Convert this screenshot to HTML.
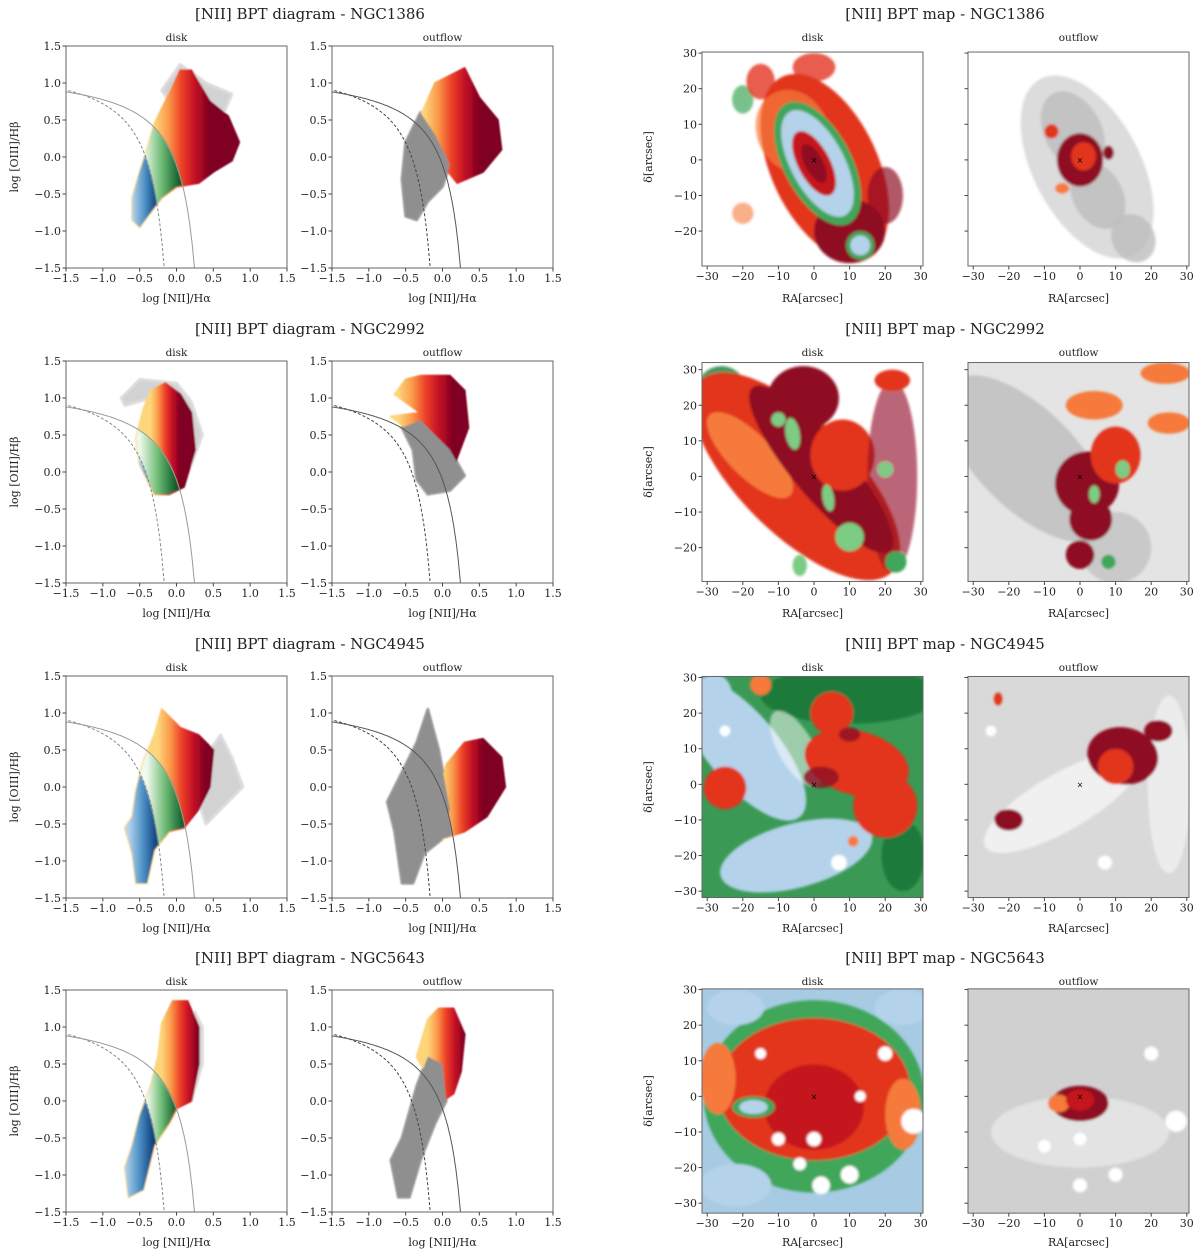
<!DOCTYPE html>
<html><head><meta charset="utf-8">
<style>
html,body{margin:0;padding:0;background:#fff;}
svg{display:block;font-family:"DejaVu Serif","Liberation Serif",serif;}
</style></head>
<body>
<svg id="fig" width="1200" height="1255" viewBox="0 0 1200 1255" xmlns="http://www.w3.org/2000/svg">
<defs>
<filter id="soft" x="-10%" y="-10%" width="120%" height="120%"><feGaussianBlur stdDeviation="1.4"/></filter>
<filter id="soft2" x="-10%" y="-10%" width="120%" height="120%"><feGaussianBlur stdDeviation="0.9"/></filter>
</defs>
</svg>
<script>
// ---------- data ----------
const galaxies = ['NGC1386','NGC2992','NGC4945','NGC5643'];
const bptXTicks = [-1.5,-1.0,-0.5,0.0,0.5,1.0,1.5];
const bptYTicks = [-1.5,-1.0,-0.5,0.0,0.5,1.0,1.5];
const mapXTicks = [-30,-20,-10,0,10,20,30];
const mapYTicks = [-30,-20,-10,0,10,20,30];

// BPT clouds (data coords: log NII/Ha, log OIII/Hb)
const cloud1386Disk = [[-0.6,-0.85],[-0.5,-0.95],[-0.35,-0.75],[-0.2,-0.55],[0.0,-0.4],[0.3,-0.35],[0.5,-0.2],[0.75,-0.05],[0.85,0.2],[0.7,0.55],[0.45,0.75],[0.3,1.0],[0.2,1.17],[0.05,1.17],[-0.05,0.95],[-0.15,0.75],[-0.3,0.45],[-0.4,0.1],[-0.5,-0.2],[-0.6,-0.55]];
const gray1386Disk = [[-0.2,0.9],[0.05,1.25],[0.4,1.0],[0.75,0.85],[0.6,0.5],[0.0,0.6]];
const cloud1386Out = [[-0.3,0.55],[-0.1,1.0],[0.1,1.1],[0.3,1.2],[0.5,0.8],[0.75,0.5],[0.8,0.1],[0.55,-0.2],[0.2,-0.35],[0.0,-0.1],[-0.1,0.2]];
const gray1386Out = [[-0.5,-0.8],[-0.35,-0.85],[-0.2,-0.6],[0.0,-0.4],[0.1,-0.1],[-0.1,0.3],[-0.3,0.6],[-0.5,0.2],[-0.55,-0.3]];
const cloud2992Disk = [[-0.3,-0.3],[-0.1,-0.3],[0.1,-0.2],[0.25,0.3],[0.2,0.8],[0.05,1.05],[-0.15,1.2],[-0.35,1.1],[-0.45,0.85],[-0.55,0.45],[-0.5,0.1]];
const gray2992Disk = [[-0.75,1.0],[-0.5,1.25],[0.0,1.2],[0.2,0.95],[0.35,0.5],[0.2,0.1],[0.1,0.6],[-0.35,1.0],[-0.7,0.9]];
const cloud2992Out = [[-0.3,0.8],[-0.65,1.05],[-0.5,1.25],[-0.3,1.3],[0.1,1.3],[0.3,1.1],[0.35,0.6],[0.2,0.2],[0.1,-0.1],[-0.1,0.1],[-0.3,0.4],[-0.5,0.6],[-0.7,0.75]];
const gray2992Out = [[-0.55,0.6],[-0.4,0.3],[-0.35,-0.1],[-0.2,-0.3],[0.1,-0.25],[0.3,-0.05],[0.1,0.3],[-0.3,0.7]];
const cloud4945Disk = [[-0.55,-1.3],[-0.4,-1.3],[-0.3,-0.85],[-0.1,-0.6],[0.1,-0.55],[0.3,-0.3],[0.45,0.0],[0.5,0.5],[0.3,0.7],[0.05,0.8],[-0.2,1.05],[-0.3,0.7],[-0.45,0.35],[-0.55,-0.05],[-0.6,-0.4],[-0.7,-0.55],[-0.6,-0.9]];
const gray4945Disk = [[0.4,-0.5],[0.3,-0.2],[0.45,0.5],[0.6,0.7],[0.75,0.4],[0.9,0.0],[0.6,-0.3]];
const cloud4945Out = [[0.0,-0.7],[0.3,-0.6],[0.6,-0.4],[0.85,0.0],[0.8,0.4],[0.55,0.65],[0.3,0.6],[0.05,0.3],[-0.05,-0.2]];
const gray4945Out = [[-0.55,-1.3],[-0.4,-1.3],[-0.25,-0.9],[0.0,-0.7],[0.1,-0.3],[-0.05,0.5],[-0.2,1.05],[-0.35,0.6],[-0.55,0.2],[-0.75,-0.2],[-0.65,-0.6]];
const cloud5643Disk = [[-0.65,-1.3],[-0.45,-1.2],[-0.3,-0.6],[-0.1,-0.3],[0.0,-0.1],[0.2,0.0],[0.3,0.5],[0.3,1.0],[0.15,1.35],[-0.05,1.35],[-0.2,1.05],[-0.25,0.6],[-0.35,0.2],[-0.5,-0.2],[-0.6,-0.6],[-0.7,-0.9]];
const gray5643Disk = [[0.2,0.0],[0.35,0.5],[0.35,1.0],[0.25,1.2],[0.1,1.0]];
const cloud5643Out = [[-0.35,0.6],[-0.2,1.1],[-0.05,1.25],[0.15,1.25],[0.3,0.9],[0.25,0.4],[0.15,0.1],[0.0,0.0],[-0.1,0.3],[-0.3,0.5]];
const gray5643Out = [[-0.6,-1.3],[-0.45,-1.3],[-0.3,-0.8],[-0.1,-0.3],[0.05,0.0],[0.0,0.5],[-0.2,0.6],[-0.35,0.2],[-0.55,-0.5],[-0.7,-0.8]];

const diskClouds = [cloud1386Disk, cloud2992Disk, cloud4945Disk, cloud5643Disk];
const diskGrays = [gray1386Disk, gray2992Disk, gray4945Disk, gray5643Disk];
const outClouds = [cloud1386Out, cloud2992Out, cloud4945Out, cloud5643Out];
const outGrays = [gray1386Out, gray2992Out, gray4945Out, gray5643Out];
const diskRedRange = [[-0.3,0.45],[-0.35,0.05],[-0.25,0.4],[-0.2,0.3]];
const outRedRange = [[-0.25,0.5],[-0.6,0.15],[0.0,0.55],[-0.2,0.3]];
const diskGreenRange = [[-0.45,0.05],[-0.5,0.0],[-0.4,0.1],[-0.4,0.0]];
const diskBlueRange = [[-0.6,-0.25],[-0.5,-0.3],[-0.65,-0.25],[-0.7,-0.3]];

// maps: [ra, dec, rx, ry, rotation, colour, opacity]
const map1386Disk = [[3,-2,15,28,-25,'red',1],[10,-20,10,9,0,'darkred',1],[-6,8,10,12,-25,'orange',0.7],[1,-1,9.5,19,-28,'green',1],[1,-1,7.5,16.5,-28,'lblue',1],[0,-1,4.5,10,-28,'red2',1],[0,-1,2.5,6,-28,'darkred',1],[13,-24,4,4,0,'green',1],[13,-24,2.8,2.8,0,'lblue',1],[-20,17,3,4,0,'green',0.7],[-15,22,4,5,0,'red',0.8],[0,26,6,4,0,'red',0.8],[20,-10,5,8,0,'darkred',0.7],[-20,-15,3,3,0,'orange',0.6]];
const map1386Out = [[2,-2,15,28,-28,'lgray',1],[-2,8,8,12,-28,'gray',0.8],[5,-10,7,10,-28,'gray',0.8],[15,-22,6,7,-28,'gray',0.8],[0,0,6.5,7.5,0,'darkred',1],[1,1,3.5,4,0,'red',1],[-5,-8,2,1.5,0,'orange',1],[-8,8,2,2,0,'red',1],[8,2,1.5,2,0,'darkred',1]];
const map2992Disk = [[-26,24,7,7,0,'dgreen',0.8],[-5,0,16,38,-45,'red',1],[-18,6,6,16,-45,'orange',1],[2,2,8,30,-40,'darkred',1],[-3,22,10,9,0,'darkred',1],[8,6,9,10,0,'red',1],[22,0,7,27,0,'darkred',0.6],[22,27,5,3,0,'red',1],[-6,12,2,4.5,-10,'lgreen',1],[4,-6,1.6,3.8,-10,'lgreen',1],[10,-17,4,4,0,'lgreen',1],[23,-24,3,3,0,'green',1],[20,2,2,2,0,'lgreen',1],[-4,-25,2,3,0,'lgreen',1],[-10,16,2,2,0,'lgreen',1]];
const map2992Out = [[-15,5,14,30,-45,'gray',0.8],[10,-20,10,10,0,'gray',0.7],[2,-2,9,9,0,'darkred',1],[10,6,7,8,0,'red',1],[3,-12,6,6,0,'darkred',1],[4,20,8,4,0,'orange',1],[24,29,7,3,0,'orange',1],[25,15,6,3,0,'orange',1],[0,-22,4,4,0,'darkred',1],[12,2,2,2.5,0,'lgreen',1],[4,-5,1.5,2.5,0,'lgreen',1],[8,-24,2,2,0,'green',1]];
const map4945Disk = [[10,25,25,8,0,'dgreen',1],[25,-20,6,10,0,'dgreen',1],[-20,10,10,25,-40,'lblue',1],[-5,-20,22,9,-15,'lblue',1],[-28,25,5,6,0,'lblue',1],[-5,10,5,12,-30,'white',0.5],[12,6,15,9,15,'red',1],[20,-6,9,9,0,'red',1],[5,20,6,6,0,'red',1],[-25,-1,6,6,0,'red',1],[2,2,5,3,0,'darkred',0.8],[10,14,3,2,0,'darkred',0.8],[-15,28,3,3,0,'orange',1],[11,-16,1.5,1.5,0,'orange',1],[-25,15,1.5,1.5,0,'white',1],[7,-22,2.2,2.2,0,'white',1]];
const map4945Out = [[-5,-5,25,8,-30,'white',0.6],[25,0,6,25,0,'white',0.5],[12,8,10,8,10,'darkred',1],[10,5,5,5,0,'red',1],[22,15,4,3,0,'darkred',1],[-23,24,1.2,1.8,0,'red',1],[-20,-10,4,3,0,'darkred',1],[-25,15,1.5,1.5,0,'white',1],[7,-22,2,2,0,'white',1]];
const map5643Disk = [[0,0,31,27,0,'green',1],[-22,-25,10,6,0,'lblue',1],[25,25,8,5,0,'lblue',1],[-22,25,8,5,0,'lblue',1],[0,2,27,20,0,'red',1],[-27,5,5,10,0,'orange',1],[25,-5,5,10,0,'orange',1],[0,-3,14,12,0,'red2',1],[-17,-3,6,3,0,'green',1],[-17,-3,4,2,0,'lblue',1],[-15,12,1.5,1.5,0,'white',1],[-10,-12,1.8,1.8,0,'white',1],[0,-12,2,2,0,'white',1],[13,0,1.5,1.5,0,'white',1],[20,12,2,2,0,'white',1],[28,-7,3.5,3.5,0,'white',1],[10,-22,2.5,2.5,0,'white',1],[2,-25,2.5,2.5,0,'white',1],[-4,-19,1.8,1.8,0,'white',1]];
const map5643Out = [[0,-10,25,10,0,'white',0.4],[0,-2,8,5,0,'darkred',1],[-6,-2,3,2.5,0,'orange',1],[0,-1,4,3,0,'red2',1],[-10,-14,1.8,1.8,0,'white',1],[0,-12,1.8,1.8,0,'white',1],[20,12,2,2,0,'white',1],[27,-7,3,3,0,'white',1],[10,-22,2,2,0,'white',1],[0,-25,2,2,0,'white',1]];
const diskMaps = [map1386Disk, map2992Disk, map4945Disk, map5643Disk];
const outMaps = [map1386Out, map2992Out, map4945Out, map5643Out];
const diskMapBg = ['#ffffff','#ffffff','#3a9a55','#a6cbe3'];
const outMapBg = ['#ffffff','#e4e4e4','#d9d9d9','#d0d0d0'];
const mapDecTop = [30.3, 32, 30.3, 30.2];
const mapDecBottom = [-29.8, -29.5, -31.8, -32.8];

// ---------- layout ----------
const palette = {red:'#e2361f',red2:'#c4141c',darkred:'#8e0a22',orange:'#f67a3a',green:'#3fa65a',dgreen:'#1a7a3a',lgreen:'#7bcc84',lblue:'#b4d3ea',gray:'#bdbdbd',lgray:'#dcdcdc',white:'#ffffff'};
const rowTop = [46,361,676,990];
const PW = 221, PH = 222;
const bptLeft = [66,332];
const mapLeft = [702,968];
const NS = 'http://www.w3.org/2000/svg';
const svg = document.getElementById('fig');
const defs = svg.querySelector('defs');
let uid = 0;
function mk(tag, attrs, parent){
  const e = document.createElementNS(NS, tag);
  for (const k in attrs) e.setAttribute(k, attrs[k]);
  (parent||svg).appendChild(e);
  return e;
}
function fmt(v){ return (v<0?'\u2212':'') + Math.abs(v).toFixed(1); }
function fmtI(v){ return (v<0?'\u2212':'') + Math.abs(v); }

function text(str, x, y, size, anchor, parent, name, rot){
  const t = mk('text', {x:x, y:y, 'font-size':size, 'text-anchor':anchor||'middle', fill:'#222'}, parent);
  if (rot) t.setAttribute('transform', 'rotate(-90 '+x+' '+y+')');
  t.textContent = str;
  
  
  return t;
}
function grad(id, x1, x2, stops){
  const g = mk('linearGradient', {id:id, gradientUnits:'userSpaceOnUse', x1:x1, x2:x2, y1:0, y2:0}, defs);
  stops.forEach(s => mk('stop', {offset:s[0], 'stop-color':s[1]}, g));
}
const kauff = x => 0.61/(x-0.05)+1.3;
const kewley = x => 0.61/(x-0.47)+1.19;

function drawBPT(row, col){
  const L = bptLeft[col], T = rowTop[row];
  const px = x => L + (x+1.5)/3*PW;
  const py = y => T + (1.5-y)/3*PH;
  const g = mk('g', {});
  
  
  const id = 'c'+(uid++);
  const cp = mk('clipPath', {id:id}, defs);
  mk('rect', {x:L, y:T, width:PW, height:PH}, cp);
  const inner = mk('g', {'clip-path':'url(#'+id+')'}, g);
  const cloudsG = mk('g', {filter:'url(#soft2)'}, inner);
  const poly = pts => pts.map(p => px(p[0]).toFixed(1)+','+py(p[1]).toFixed(1)).join(' ');
  const cloud = col===0 ? diskClouds[row] : outClouds[row];
  const gr = col===0 ? diskGrays[row] : outGrays[row];
  function curvePts(f, xmax){
    const pts=[]; for (let x=-1.6; x<xmax; x+=0.01){ const y=f(x); if (y<-1.7) break; pts.push([x,y]); }
    return pts;
  }
  const kp = curvePts(kauff, 0.05), wp = curvePts(kewley, 0.47);
  const kId='k'+(uid++), wId='w'+(uid++);
  const kc = mk('clipPath',{id:kId},defs);
  mk('polygon',{points:poly(kp.concat([[kp[kp.length-1][0],-1.8],[-1.6,-1.8]]))},kc);
  const wc = mk('clipPath',{id:wId},defs);
  mk('polygon',{points:poly(wp.concat([[wp[wp.length-1][0],-1.8],[-1.6,-1.8]]))},wc);
  const rr = col===0 ? diskRedRange[row] : outRedRange[row];
  const rg='rg'+(uid++), gg='gg'+(uid++), bg='bg'+(uid++);
  grad(rg, px(rr[0]), px(rr[1]), [[0,'#fdd57a'],[0.25,'#fb9a4a'],[0.5,'#ec3e26'],[0.75,'#c00d25'],[1,'#7f0022']]);
  const gn = diskGreenRange[row], bl = diskBlueRange[row];
  grad(gg, px(gn[0]), px(gn[1]), [[0,'#f0f9ec'],[0.5,'#6dbb74'],[1,'#0b5a2a']]);
  grad(bg, px(bl[0]), px(bl[1]), [[0,'#b5d3ea'],[0.5,'#4a8fc4'],[1,'#0a3a75']]);
  const grayP = mk('polygon', {points:poly(gr), fill: col===0?'#d2d2d2':'#8f8f8f', stroke: col===0?'#dcdcdc':'#a0a0a0', 'stroke-width':3, 'stroke-linejoin':'round'}, cloudsG);
  
  
  const rP = mk('polygon', {points:poly(cloud), fill:'url(#'+rg+')', stroke:'url(#'+rg+')', 'stroke-width':2, 'stroke-linejoin':'round'}, cloudsG);
  
  
  const lowG = col===0 ? 'url(#'+gg+')' : '#8f8f8f';
  const lowB = col===0 ? 'url(#'+bg+')' : '#8f8f8f';
  const gP = mk('polygon', {points:poly(cloud), fill:lowG, 'clip-path':'url(#'+wId+')'}, cloudsG);
  
  
  const bP = mk('polygon', {points:poly(cloud), fill:lowB, 'clip-path':'url(#'+kId+')'}, cloudsG);
  
  
  if (col===1){
    const gP2 = mk('polygon', {points:poly(gr), fill:'#8f8f8f'}, cloudsG);
    
    
  }
  const kl = mk('polyline', {points:poly(kp), fill:'none', stroke: col===0?'#888':'#444', 'stroke-width':1, 'stroke-dasharray':'3,2'}, inner);
  
  
  const wl = mk('polyline', {points:poly(wp), fill:'none', stroke: col===0?'#999':'#555', 'stroke-width':1}, inner);
  
  
  const fr = mk('rect', {x:L, y:T, width:PW, height:PH, fill:'none', stroke:'#666', 'stroke-width':1}, g);
  
  
  bptXTicks.forEach(v => {
    const x = px(v);
    const tk = mk('line', {x1:x, x2:x, y1:T+PH, y2:T+PH+3.5, stroke:'#444'}, g);
    
    
    text(fmt(v), x, T+PH+14, 11, 'middle', g, 'x-tick-label');
  });
  bptYTicks.forEach(v => {
    const y = py(v);
    const tk = mk('line', {x1:L-3.5, x2:L, y1:y, y2:y, stroke:'#444'}, g);
    
    
    text(fmt(v), L-5, y+4, 11, 'end', g, 'y-tick-label');
  });
  text(col===0?'disk':'outflow', L+PW/2, T-5, 10.5, 'middle', g, 'subplot-title');
  text('log [NII]/H\u03B1', L+PW/2, T+PH+34, 11, 'middle', g, 'x-axis-title');
  if (col===0) text('log [OIII]/H\u03B2', 18, T+PH/2, 11, 'middle', g, 'y-axis-title', true);
}

function drawMap(row, col){
  const L = mapLeft[col];
  const top = mapDecTop[row], bot = mapDecBottom[row];
  const s = 3.56;
  const T = rowTop[row] + (PH - (top-bot)*s)/2 + (row===0?2:0);
  const H = (top-bot)*s;
  const px = ra => L + 112 + ra*s;
  const py = dec => T + (top-dec)*s;
  const g = mk('g', {});
  
  
  const id='m'+(uid++);
  const cp = mk('clipPath',{id:id},defs);
  mk('rect',{x:L,y:T,width:PW,height:H},cp);
  const inner = mk('g',{'clip-path':'url(#'+id+')'},g);
  const bgc = col===0 ? diskMapBg[row] : outMapBg[row];
  mk('rect',{x:L,y:T,width:PW,height:H,fill:bgc},inner);
  const blur = mk('g',{filter:'url(#soft)'},inner);
  const blobs = col===0 ? diskMaps[row] : outMaps[row];
  blobs.forEach(b => {
    const cx = px(b[0]), cy = py(b[1]);
    const e = mk('ellipse',{cx:cx, cy:cy, rx:b[2]*s, ry:b[3]*s, fill:palette[b[5]], opacity:b[6], transform:'rotate('+b[4]+' '+cx+' '+cy+')'}, blur);
    
    
  });
  const cm = mk('text',{x:px(0),y:py(0)+3,'font-size':8,'text-anchor':'middle',fill:'#000'},inner);
  cm.textContent='\u00D7';
  
  
  const fr = mk('rect',{x:L,y:T,width:PW,height:H,fill:'none',stroke:'#666','stroke-width':1},g);
  
  
  mapXTicks.forEach(v => {
    const x = px(v);
    const tk = mk('line',{x1:x,x2:x,y1:T+H,y2:T+H+3.5,stroke:'#444'},g);
    
    
    text(fmtI(v), x, T+H+14, 11, 'middle', g, 'x-tick-label');
  });
  mapYTicks.forEach(v => {
    if (v>top+0.01 || v<bot-0.01) return;
    const y = py(v);
    const tk = mk('line',{x1:L-3.5,x2:L,y1:y,y2:y,stroke:'#444'},g);
    
    
    if (col===0) text(fmtI(v), L-5, y+4, 11, 'end', g, 'y-tick-label');
  });
  text(col===0?'disk':'outflow', L+PW/2, rowTop[row]-5, 10.5, 'middle', g, 'subplot-title');
  text('RA[arcsec]', L+PW/2, rowTop[row]+PH+34, 11, 'middle', g, 'x-axis-title');
  if (col===0) text('\u03B4[arcsec]', 652, rowTop[row]+PH/2, 11, 'middle', g, 'y-axis-title', true);
}

for (let r=0; r<4; r++){
  text('[NII] BPT diagram - '+galaxies[r], 310, rowTop[r]-27, 15, 'middle', svg, 'bpt-diagram-title');
  text('[NII] BPT map - '+galaxies[r], 945, rowTop[r]-27, 15, 'middle', svg, 'bpt-map-title');
  drawBPT(r,0); drawBPT(r,1);
  drawMap(r,0); drawMap(r,1);
}
</script>
</body></html>
